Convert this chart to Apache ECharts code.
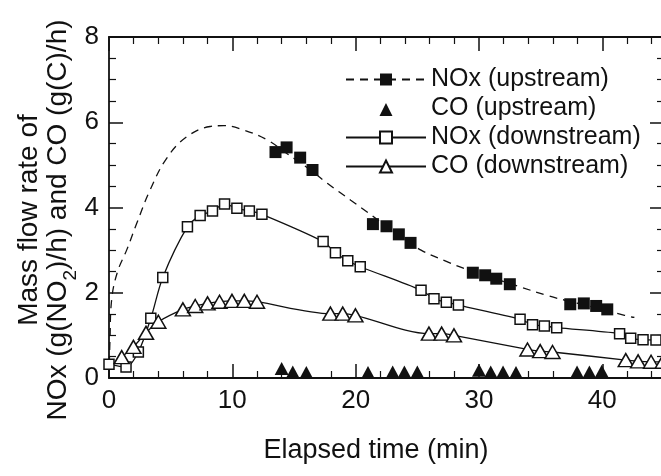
<!DOCTYPE html>
<html>
<head>
<meta charset="utf-8">
<script src="https://cdn.jsdelivr.net/npm/echarts@6/dist/echarts.min.js"></script>
<style>
html,body{margin:0;padding:0;background:#fff;}
#chart{width:661px;height:476px;}
</style>
</head>
<body>
<div id="chart"></div>
<script>
// ---- data ----
var noxUpFitX = [0, 0.08, 0.22, 0.7, 1.43, 2.25, 3.33, 4.69, 6.31, 8.2, 9.3, 10.9, 12.8, 14.5, 16.0, 17.7, 19.6, 20.9, 23.0, 25.3, 27.4, 28.8, 31.0, 33.1, 35.6, 36.9, 39.0, 41.8, 42.6];
var noxUpFitY = [0, 0.9, 1.85, 2.5, 3.0, 3.63, 4.41, 5.16, 5.66, 5.9, 5.92, 5.82, 5.59, 5.25, 4.95, 4.57, 4.17, 3.9, 3.45, 3.0, 2.73, 2.57, 2.36, 2.16, 1.93, 1.83, 1.68, 1.47, 1.42];

var noxUpX = [13.5, 14.4, 15.5, 16.5, 21.4, 22.5, 23.5, 24.45, 29.5, 30.5, 31.4, 32.5, 37.4, 38.5, 39.5, 40.4];
var noxUpY = [5.30, 5.41, 5.17, 4.88, 3.61, 3.56, 3.37, 3.17, 2.47, 2.41, 2.33, 2.20, 1.73, 1.75, 1.69, 1.61];

var coUpX = [14.0, 14.9, 16.0, 21.0, 23.0, 23.95, 25.0, 30.0, 30.95, 31.95, 33.0, 37.95, 38.95, 39.95];
var coUpY = [0.22, 0.14, 0.13, 0.13, 0.14, 0.14, 0.14, 0.18, 0.14, 0.14, 0.13, 0.14, 0.14, 0.16];

var noxDownX = [0, 1.38, 2.38, 3.39, 4.36, 6.36, 7.39, 8.39, 9.37, 10.37, 11.38, 12.4, 17.36, 18.36, 19.36, 20.37, 25.3, 26.35, 27.35, 28.33, 33.33, 34.34, 35.3, 36.3, 41.4, 42.3, 43.3, 44.35];
var noxDownY = [0.32, 0.26, 0.61, 1.40, 2.36, 3.55, 3.81, 3.92, 4.08, 3.98, 3.92, 3.84, 3.20, 2.94, 2.75, 2.61, 2.06, 1.86, 1.78, 1.71, 1.38, 1.25, 1.22, 1.18, 1.04, 0.93, 0.90, 0.89];

var coDownX = [1.03, 1.98, 3.0, 4.0, 5.99, 6.99, 7.99, 8.96, 9.97, 10.97, 12.0, 17.95, 18.95, 19.98, 25.94, 26.97, 27.97, 33.93, 34.96, 35.96, 41.9, 42.9, 43.95, 44.9];
var coDownY = [0.49, 0.73, 1.06, 1.32, 1.61, 1.69, 1.75, 1.79, 1.81, 1.81, 1.79, 1.51, 1.51, 1.47, 1.04, 1.04, 1.00, 0.67, 0.63, 0.61, 0.42, 0.39, 0.38, 0.38];

var legendNames = ['NOx (upstream)', 'CO (upstream)', 'NOx (downstream)', 'CO (downstream)'];
var xTitle = 'Elapsed time (min)';

function pairs(xs, ys){ return xs.map(function(x,i){ return [x, ys[i]]; }); }

var ink = '#111111';
var FONT = 'Liberation Sans, Arial, sans-serif';

var chart = echarts.init(document.getElementById('chart'), null, {renderer:'canvas'});

function axisCommon(showLabel){
  return {
    axisLine:{show:true, onZero:false, lineStyle:{color:ink, width:1.8}},
    axisTick:{show:true, inside:true, length:14, lineStyle:{color:ink, width:1.5}},
    minorTick:{show:true, splitNumber:0, length:7, lineStyle:{color:ink, width:1.2}},
    splitLine:{show:false},
    axisLabel:{show:showLabel, color:ink, fontSize:26, fontFamily:FONT}
  };
}

var xb = Object.assign(axisCommon(true), {type:'value', position:'bottom', min:0, max:45, interval:10});
xb.minorTick.splitNumber = 5;
xb.axisLabel.margin = 10;
xb.axisLabel.showMaxLabel = false;
var xt = Object.assign(axisCommon(false), {type:'value', position:'top', min:0, max:45, interval:10});
xt.minorTick.splitNumber = 5;
var yl = Object.assign(axisCommon(true), {type:'value', position:'left', min:0, max:8, interval:2});
yl.minorTick.splitNumber = 4;
yl.axisLabel.margin = 10;
var yr = Object.assign(axisCommon(false), {type:'value', position:'right', min:0, max:8, interval:2});
yr.minorTick.splitNumber = 4;

// legend icon for the filled-triangle entry (triangle centred in a wide box)
var triIcon = 'path://M0,15L0.01,15L0,14.99Z M80,0L80.01,0L80,0.01Z M33.5,15L40,2L46.5,15Z';

var option = {
  backgroundColor:'#fff',
  animation:false,
  grid:{left:109, top:37, width:555, height:341, containLabel:false, outerBoundsMode:'none'},
  xAxis:[xb, xt],
  yAxis:[yl, yr],
  legend:{
    data:[
      {name:legendNames[0]},
      {name:legendNames[1], icon:triIcon},
      {name:legendNames[2]},
      {name:legendNames[3]}
    ],
    orient:'vertical',
    left:340, top:62,
    itemWidth:80, itemHeight:15,
    itemGap:4,
    textStyle:{color:ink, fontSize:25, fontFamily:FONT, lineHeight:25},
    selectedMode:false
  },
  graphic:[
    {type:'text', x:44, y:220, rotation:Math.PI/2,
     style:{
       text:'{a|Mass flow rate of}\n{a|NOx (g(NO}{s|2}{a|)/h) and CO (g(C)/h)}',
       align:'center', verticalAlign:'middle',
       fill:ink, font:'28px Liberation Sans, Arial, sans-serif',
       rich:{
         a:{fontSize:28, fontFamily:FONT, fill:ink, lineHeight:29},
         s:{fontSize:19, fontFamily:FONT, fill:ink, lineHeight:29, verticalAlign:'bottom', padding:[0,0,-7,0]}
       }
     }},
    {type:'text', x:376, y:451,
     style:{text:xTitle, align:'center', verticalAlign:'middle', fill:ink, font:'27px Liberation Sans, Arial, sans-serif'}}
  ],
  series:[
    {name:'NOx (upstream)', type:'line', data:pairs(noxUpFitX, noxUpFitY), smooth:0.4,
     symbol:'rect', showSymbol:false, symbolSize:12, z:2,
     itemStyle:{color:ink, opacity:1}, lineStyle:{color:ink, width:1.3, type:[8,6]}},
    {name:'NOx (upstream)', type:'scatter', data:pairs(noxUpX, noxUpY), symbol:'rect', symbolSize:12, z:4,
     itemStyle:{color:ink, opacity:1}},
    {name:'CO (upstream)', type:'scatter', data:pairs(coUpX, coUpY), symbol:'triangle', symbolSize:[14,13], z:4,
     itemStyle:{color:ink, opacity:1}},
    {name:'NOx (downstream)', type:'line', data:pairs(noxDownX, noxDownY), smooth:0.3,
     symbol:'rect', symbolSize:10, showSymbol:true, z:3,
     itemStyle:{color:'#fff', borderColor:ink, borderWidth:1.5, opacity:1},
     lineStyle:{color:ink, width:1.3}},
    {name:'CO (downstream)', type:'line', data:pairs(coDownX, coDownY), smooth:0.3,
     symbol:'triangle', symbolSize:[15,13], showSymbol:true, z:3,
     itemStyle:{color:'#fff', borderColor:ink, borderWidth:1.5, opacity:1},
     lineStyle:{color:ink, width:1.3}}
  ]
};
chart.setOption(option);
</script>
</body>
</html>
